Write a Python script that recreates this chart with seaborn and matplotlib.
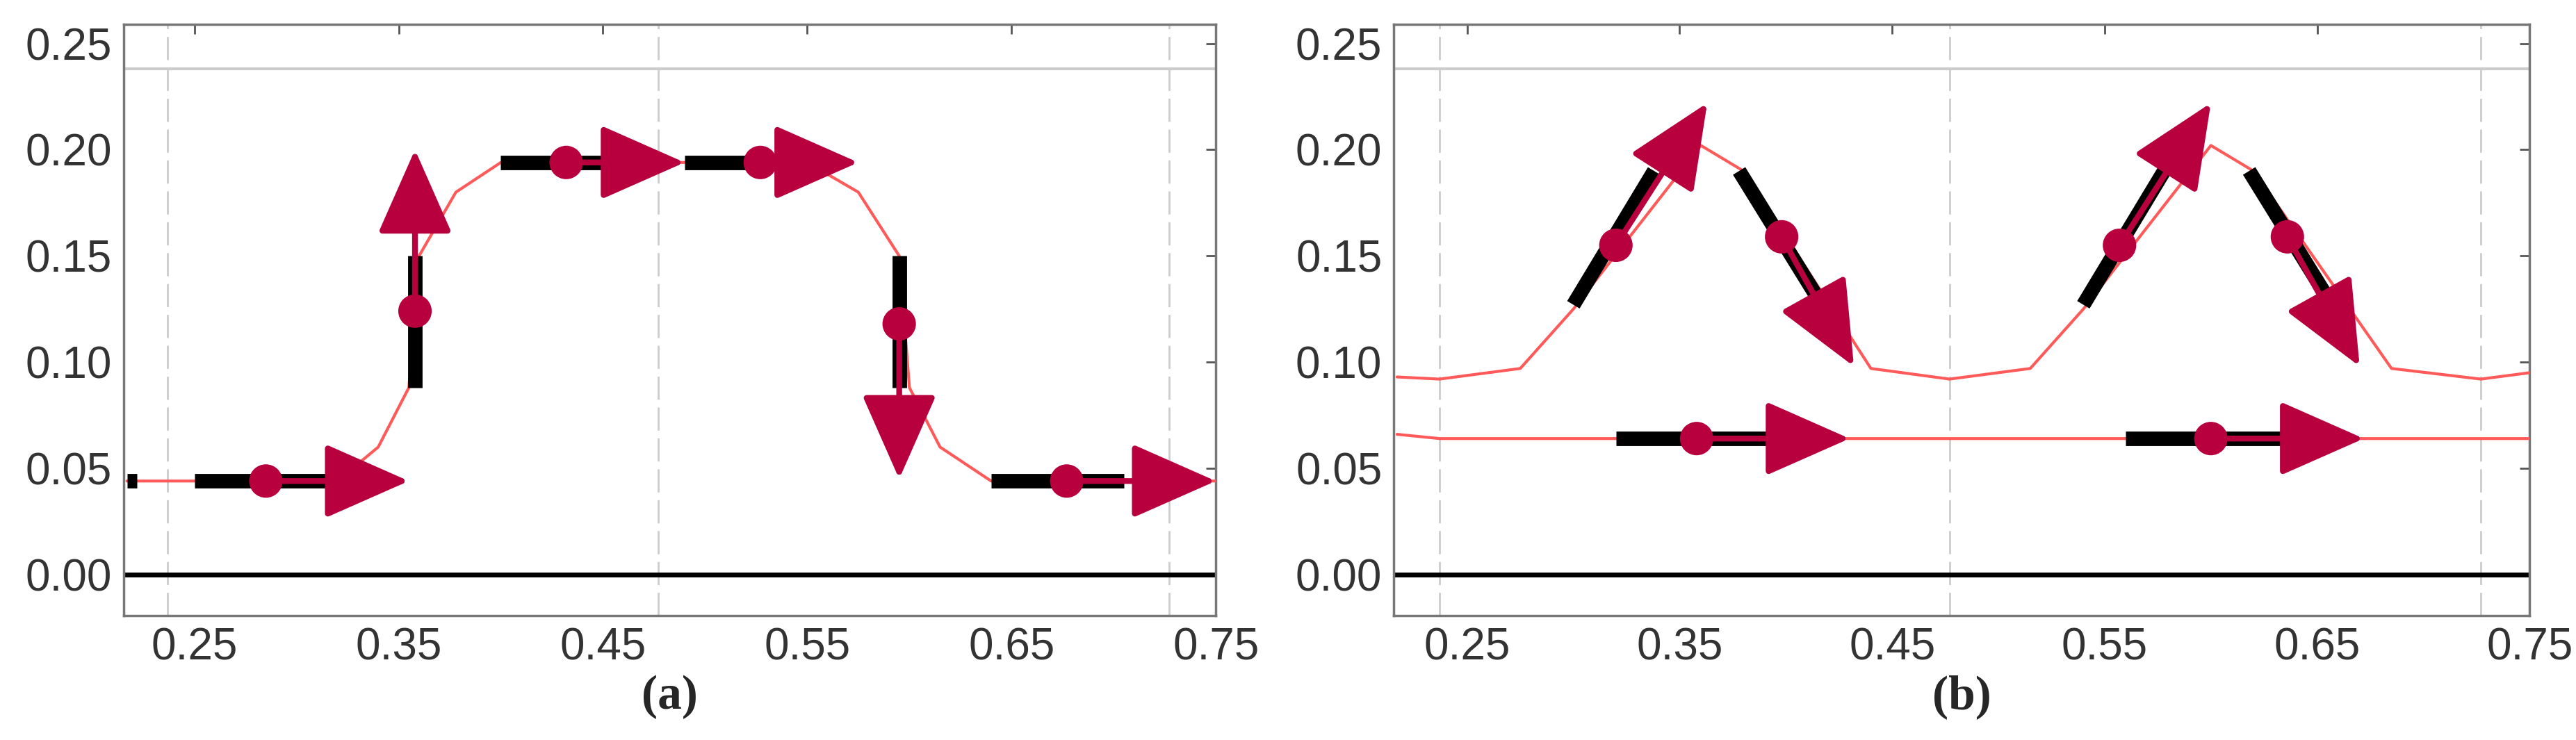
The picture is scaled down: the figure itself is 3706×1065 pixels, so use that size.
import numpy as np
import matplotlib
matplotlib.use("Agg")
import matplotlib.pyplot as plt
import seaborn as sns

sns.set_theme(style="white")
plt.rcParams['font.family'] = ['Liberation Sans Narrow', 'Liberation Sans', 'DejaVu Sans']

RED = "#ff5a5a"
CRIM = "#b8003f"

# Panel a
a_x = [0.217, 0.32, 0.34, 0.355, 0.36, 0.378, 0.40, 0.55, 0.575, 0.595, 0.60, 0.615, 0.64, 0.75]
a_y = [0.044, 0.044, 0.06, 0.088, 0.15, 0.18, 0.194, 0.194, 0.18, 0.15, 0.088, 0.06, 0.044, 0.044]
a_seg = [((0.217, 0.044), (0.222, 0.044)), ((0.25, 0.044), (0.315, 0.044)),
         ((0.358, 0.088), (0.358, 0.15)), ((0.40, 0.194), (0.465, 0.194)),
         ((0.49, 0.194), (0.555, 0.194)), ((0.595, 0.088), (0.595, 0.15)),
         ((0.64, 0.044), (0.705, 0.044))]
a_dot_x = [0.285, 0.358, 0.432, 0.527, 0.595, 0.677]
a_dot_y = [0.044, 0.124, 0.194, 0.194, 0.118, 0.044]
a_tip_x = [0.355, 0.358, 0.49, 0.575, 0.595, 0.75]
a_tip_y = [0.044, 0.200, 0.194, 0.194, 0.045, 0.044]

# Panel b
b_x = [0.217, 0.237, 0.275, 0.30, 0.36, 0.38, 0.44, 0.477, 0.515, 0.54, 0.60, 0.62, 0.685, 0.727, 0.75]
b_y = [0.093, 0.092, 0.097, 0.125, 0.202, 0.19, 0.097, 0.092, 0.097, 0.125, 0.202, 0.19, 0.097, 0.092, 0.095]
b2_x = [0.217, 0.237, 0.75]
b2_y = [0.066, 0.064, 0.064]
b_seg = [((0.30, 0.127), (0.338, 0.19)), ((0.378, 0.19), (0.42, 0.122)), ((0.32, 0.064), (0.395, 0.064)),
         ((0.54, 0.127), (0.578, 0.19)), ((0.618, 0.19), (0.66, 0.122)), ((0.56, 0.064), (0.635, 0.064))]
b_dot_x = [0.32, 0.398, 0.358, 0.557, 0.636, 0.60]
b_dot_y = [0.155, 0.159, 0.064, 0.155, 0.159, 0.064]
b_tip_x = [0.363, 0.432, 0.43, 0.600, 0.670, 0.672]
b_tip_y = [0.222, 0.098, 0.064, 0.222, 0.098, 0.064]

vlines = [0.237, 0.477, 0.727]
hline = 0.238
xticks = [0.25, 0.35, 0.45, 0.55, 0.65, 0.75]
yticks = [0.00, 0.05, 0.10, 0.15, 0.20, 0.25]

fig = plt.figure(figsize=(37.06, 10.65), dpi=100)
axa = fig.add_axes([0.048, 0.168, 0.424, 0.799])
axb = fig.add_axes([0.541, 0.168, 0.441, 0.799])

def draw(ax, lines, segs, dx, dy, tx, ty, label):
    for v in vlines:
        ax.axvline(v, color="#cccccc", lw=2, ls=(0, (12, 4)), zorder=1)
    ax.axhline(hline, color="#cccccc", lw=3, zorder=1)
    ax.axhline(0, color="black", lw=5, zorder=2)
    for lx, ly in lines:
        sns.lineplot(x=lx, y=ly, ax=ax, color=RED, lw=3, sort=False, estimator=None, zorder=3)
    for (x0, y0), (x1, y1) in segs:
        ax.plot([x0, x1], [y0, y1], color="black", lw=15, solid_capstyle="butt", zorder=4)
    for x0, y0, x1, y1 in zip(dx, dy, tx, ty):
        ax.annotate("", xy=(x1, y1), xytext=(x0, y0),
                    arrowprops=dict(arrowstyle="-|>,head_length=1.7,head_width=0.75",
                                    mutation_scale=45, color=CRIM, lw=6,
                                    shrinkA=0, shrinkB=0), zorder=5)
    sns.scatterplot(x=dx, y=dy, ax=ax, color=CRIM, s=1200, edgecolor="none", zorder=6)
    ax.set_xlim(0.2154, 0.75)
    ax.set_ylim(-0.0194, 0.259)
    ax.set_xticks(xticks)
    ax.set_xticklabels([f"{t:.2f}" for t in xticks])
    ax.set_yticks(yticks)
    ax.set_yticklabels([f"{t:.2f}" for t in yticks])
    ax.tick_params(direction="in", length=10, width=2, colors="#555555",
                   labelsize=46, labelcolor="#333333", top=True, right=True, pad=12)
    for s in ax.spines.values():
        s.set_color("#777777"); s.set_linewidth(2.5)
    ax.set_xlabel(label, fontsize=50, fontweight="bold", family="Liberation Serif", labelpad=6)
    ax.set_ylabel("")

draw(axa, [(a_x, a_y)], a_seg, a_dot_x, a_dot_y, a_tip_x, a_tip_y, "(a)")
draw(axb, [(b_x, b_y), (b2_x, b2_y)], b_seg, b_dot_x, b_dot_y, b_tip_x, b_tip_y, "(b)")

fig.savefig("out.png", dpi=100)
